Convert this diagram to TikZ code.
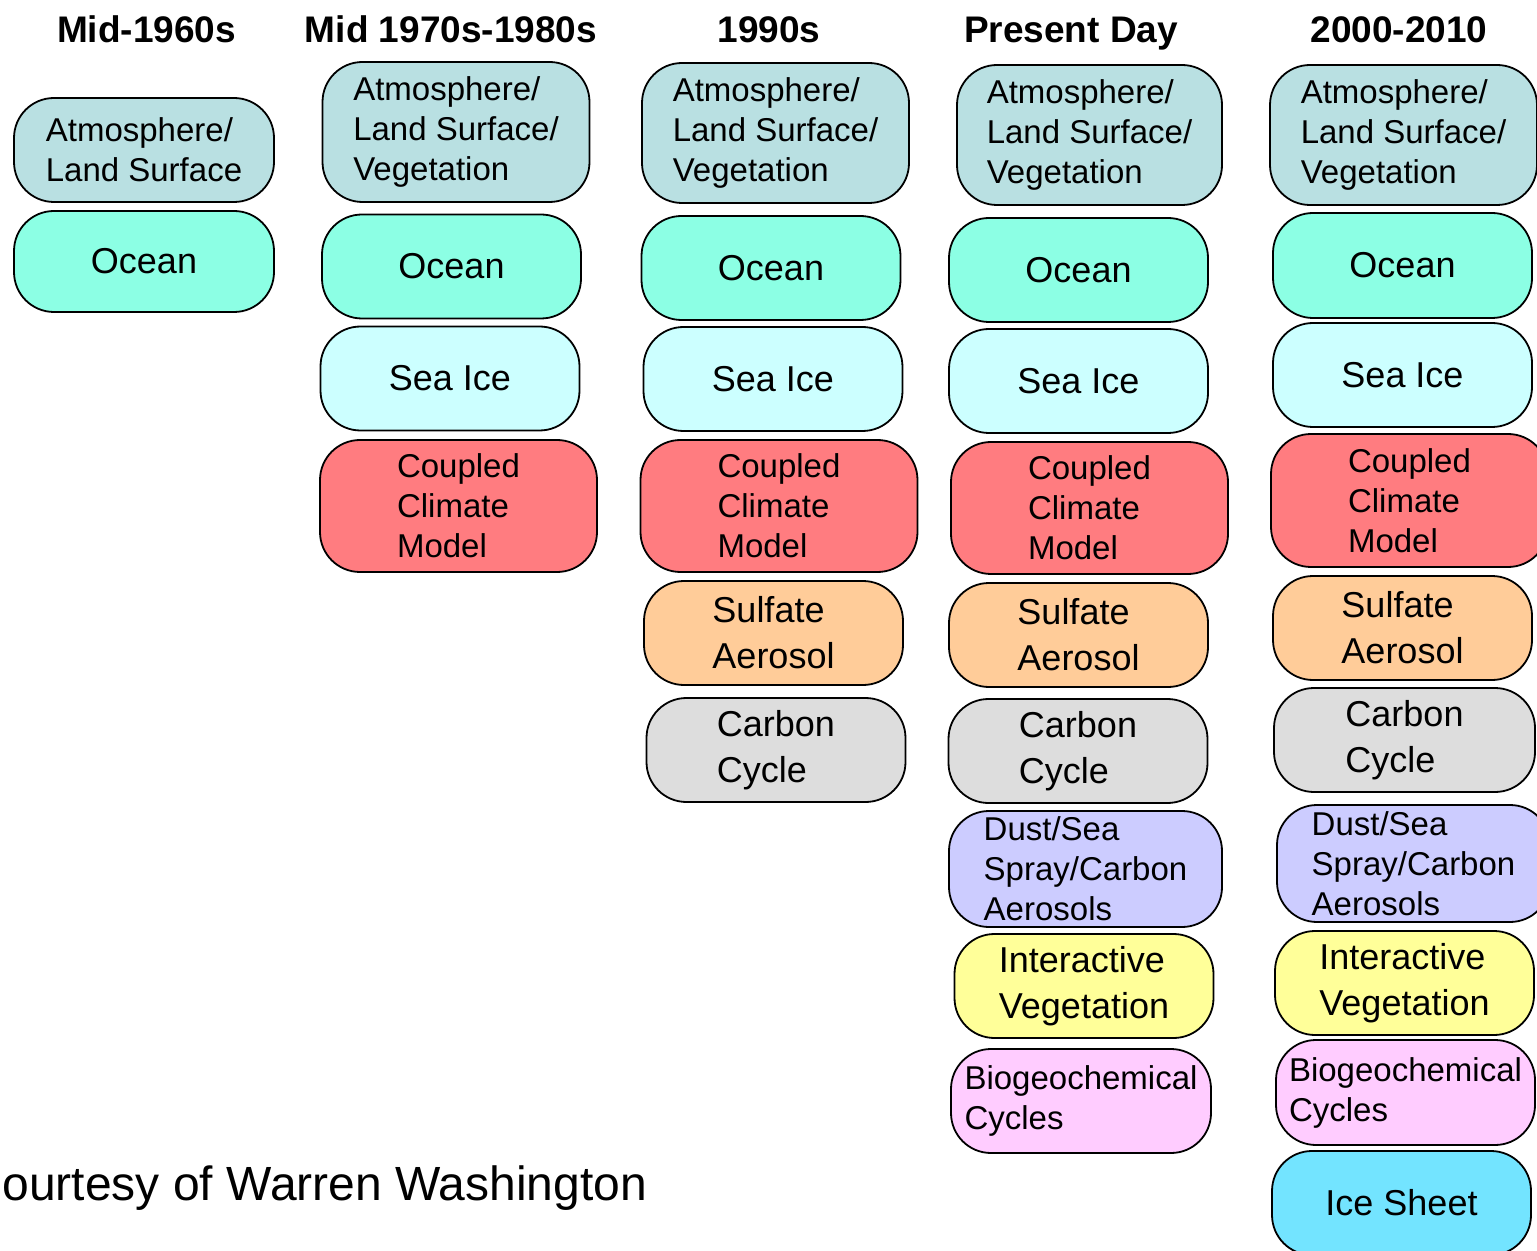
\documentclass[tikz,border=0pt]{standalone}
\usepackage{fontspec}
\setmainfont{Liberation Sans}
\definecolor{atmblue}{RGB}{185,224,226}
\definecolor{oceangreen}{RGB}{140,255,228}
\definecolor{seaicecyan}{RGB}{204,255,255}
\definecolor{coupledred}{RGB}{255,124,128}
\definecolor{sulfateorange}{RGB}{255,204,153}
\definecolor{carbongrey}{RGB}{221,221,221}
\definecolor{dustlilac}{RGB}{204,204,255}
\definecolor{vegyellow}{RGB}{255,255,153}
\definecolor{biopink}{RGB}{255,204,255}
\definecolor{icesheetblue}{RGB}{115,228,255}
\tikzset{
  smalltxt/.style={font=\fontsize{16.5}{20}\selectfont},
  bigtxt/.style={font=\fontsize{18}{23}\selectfont},
  comp/.style={rectangle, rounded corners=20pt, draw=black, line width=0.9pt, inner sep=0pt, align=left, text=black, minimum width=129.5pt, minimum height=52pt},
  atm/.style={comp, smalltxt, fill=atmblue, minimum width=133.5pt, minimum height=70pt},
  ocn/.style={comp, bigtxt, fill=oceangreen},
  seaice/.style={comp, bigtxt, fill=seaicecyan},
  cpl/.style={comp, smalltxt, fill=coupledred, minimum width=138.5pt, minimum height=66pt},
  sulf/.style={comp, bigtxt, fill=sulfateorange},
  carb/.style={comp, bigtxt, fill=carbongrey},
  dust/.style={comp, smalltxt, fill=dustlilac, minimum width=136.5pt, minimum height=58pt},
  iveg/.style={comp, bigtxt, fill=vegyellow},
  bgc/.style={comp, smalltxt, fill=biopink},
  isheet/.style={comp, bigtxt, fill=icesheetblue},
  head/.style={anchor=base, font=\bfseries\fontsize{18.5}{22}\selectfont},
}
\begin{document}
\begin{tikzpicture}[x=0.5pt, y=-0.5pt]
  \path[use as bounding box, fill=white] (0,0) rectangle (1537,1251);
  % column headings
  \foreach \i/\x/\t in {1/146.5/Mid-1960s, 2/451/Mid 1970s-1980s, 3/769/1990s, 4/1071/Present Day, 5/1399/2000-2010}{
    \node[head] (head\i) at (\x,43) {\t};
  }
  % Mid-1960s
  \node[atm, minimum width=130pt, minimum height=52pt] (atm1) at (144,150) {Atmosphere/\\Land Surface};
  \node[ocn, minimum width=130pt, minimum height=50.5pt] (ocn1) at (144,261.5) {Ocean};
  % Mid 1970s-1980s
  \node[atm] (atm2) at (456,132) {Atmosphere/\\Land Surface/\\Vegetation};
  \node[ocn] (ocn2) at (451.5,266.5) {Ocean};
  \node[seaice] (ice2) at (450,378.5) {Sea Ice};
  \node[cpl] (cpl2) at (458.5,506) {Coupled\\Climate\\Model};
  % 1990s
  \node[atm] (atm3) at (775.5,133) {Atmosphere/\\Land Surface/\\Vegetation};
  \node[ocn] (ocn3) at (771,268) {Ocean};
  \node[seaice] (ice3) at (773,379) {Sea Ice};
  \node[cpl] (cpl3) at (779,506) {Coupled\\Climate\\Model};
  \node[sulf] (sulf3) at (773.5,633) {Sulfate\\Aerosol};
  \node[carb] (carb3) at (776,750) {Carbon\\Cycle};
  % Present Day
  \node[atm, minimum width=132.5pt] (atm4) at (1089.5,135) {Atmosphere/\\Land Surface/\\Vegetation};
  \node[ocn] (ocn4) at (1078.5,270) {Ocean};
  \node[seaice] (ice4) at (1078.5,381) {Sea Ice};
  \node[cpl] (cpl4) at (1089.5,508) {Coupled\\Climate\\Model};
  \node[sulf] (sulf4) at (1078.5,635) {Sulfate\\Aerosol};
  \node[carb] (carb4) at (1078,751) {Carbon\\Cycle};
  \node[dust] (dust4) at (1085.5,869) {Dust/Sea\\Spray/Carbon\\Aerosols};
  \node[iveg] (veg4) at (1084,986) {Interactive\\Vegetation};
  \node[bgc, minimum width=130pt] (bgc4) at (1081,1101) {Biogeochemical\\Cycles};
  % 2000-2010
  \node[atm] (atm5) at (1403.5,135) {Atmosphere/\\Land Surface/\\Vegetation};
  \node[ocn, minimum height=52.5pt] (ocn5) at (1402.5,265.5) {Ocean};
  \node[seaice] (ice5) at (1402.5,375) {Sea Ice};
  \node[cpl, minimum height=66.5pt] (cpl5) at (1409.5,500.5) {Coupled\\Climate\\Model};
  \node[sulf] (sulf5) at (1402.5,628) {Sulfate\\Aerosol};
  \node[carb, minimum width=130.5pt] (carb5) at (1404.5,740) {Carbon\\Cycle};
  \node[dust, minimum height=58.5pt] (dust5) at (1413.5,863.5) {Dust/Sea\\Spray/Carbon\\Aerosols};
  \node[iveg] (veg5) at (1404.5,983) {Interactive\\Vegetation};
  \node[bgc, minimum height=52.5pt] (bgc5) at (1405.5,1092.5) {Biogeochemical\\Cycles};
  \node[isheet] (sheet5) at (1401.5,1203) {Ice Sheet};
  % credit line
  \node[anchor=base west, inner sep=0pt, font=\fontsize{24}{28}\selectfont] (credit) at (2,1200) {ourtesy of Warren Washington};
\end{tikzpicture}
\end{document}
